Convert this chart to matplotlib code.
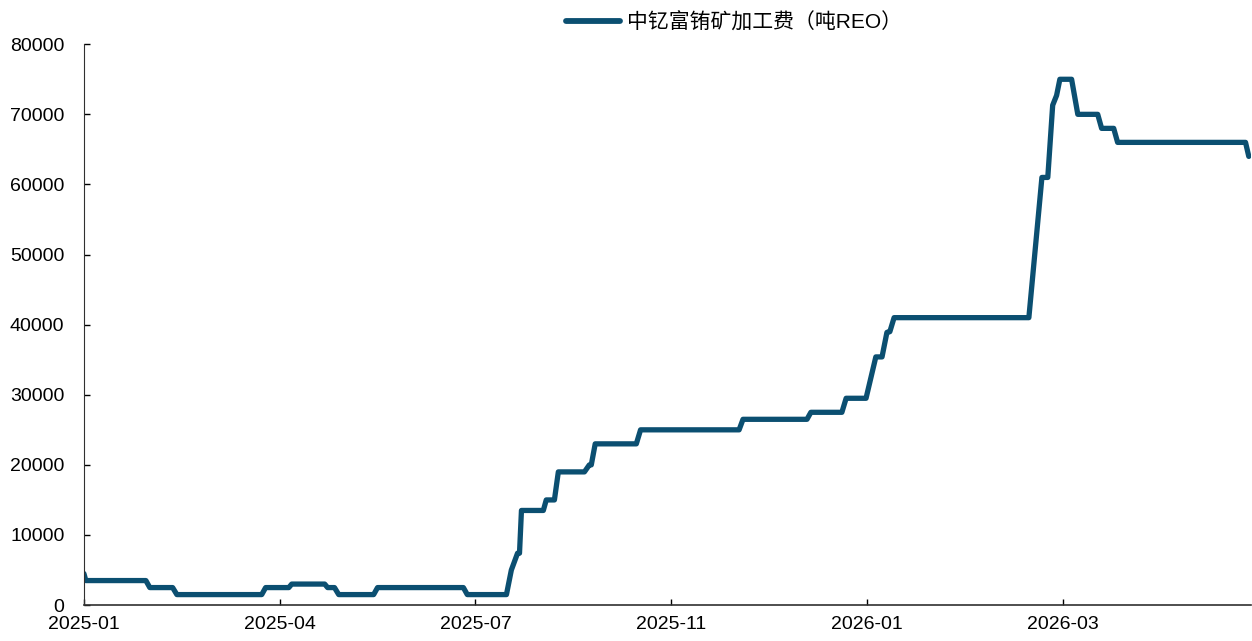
import numpy as np
import matplotlib.pyplot as plt

plt.rcParams['font.family'] = ['Liberation Sans', 'Noto Sans CJK SC', 'DejaVu Sans']

# breakpoints of the series (x = category index, y = 元/吨REO)
x_idx = [0, 0.6, 19, 20.2, 27.2, 28.5, 54.5, 55.7, 62.8, 63.7, 73.8, 74.7, 76.8, 78.1,
         88.8, 90, 116.3, 117.5, 129.5, 131, 132.9, 133.5, 134.1, 140.8, 141.7, 144.2,
         145.4, 153.4, 154.9, 155.5, 156.7, 169.3, 170.6, 200.8, 202, 221.6, 222.8,
         232.3, 233.6, 239.7, 242.7, 244.6, 246.1, 247, 248.3, 289.6, 293.6, 295.4,
         296.9, 298.1, 299.1, 302.7, 304.6, 310.7, 311.9, 315.6, 316.8, 356, 357]
values = [4500, 3500, 3500, 2500, 2500, 1500, 1500, 2500, 2500, 3000, 3000, 2500, 2500, 1500,
          1500, 2500, 2500, 1500, 1500, 5000, 7400, 7400, 13500, 13500, 15000, 15000,
          19000, 19000, 20000, 20000, 23000, 23000, 25000, 25000, 26500, 26500, 27500,
          27500, 29500, 29500, 35400, 35400, 38900, 39000, 41000, 41000, 61000, 61000,
          71300, 72700, 75000, 75000, 70000, 70000, 68000, 68000, 66000, 66000, 64000]
tick_pos = [0, 60, 120, 180, 240, 300]
tick_labels = ['2025-01', '2025-04', '2025-07', '2025-11', '2026-01', '2026-03']

fig = plt.figure(figsize=(12.52, 6.41), dpi=100)
ax = fig.add_axes([0.067, 0.056, 0.932, 0.875])

ax.plot(x_idx, values, color='#0B4F71', lw=3.8, solid_joinstyle='round',
        solid_capstyle='round', label='中钇富铕矿加工费（吨REO）')

ax.set_xlim(0, 357.6)
ax.set_ylim(0, 80000)
ax.set_yticks(np.arange(0, 80001, 10000))
ax.set_xticks(tick_pos)
ax.set_xticklabels(tick_labels)
ax.tick_params(axis='both', labelsize=14, colors='black', direction='in',
               length=4.5, width=1)
ax.tick_params(axis='x', pad=8)
ax.tick_params(axis='y', pad=14)
for s in ['top', 'right']:
    ax.spines[s].set_visible(False)
ax.spines['left'].set_color('#303030')
ax.spines['bottom'].set_color('#303030')
ax.spines['bottom'].set_linewidth(1.2)

leg = ax.legend(loc='upper center', bbox_to_anchor=(0.557, 1.09), frameon=False,
                fontsize=15, handlelength=2.6, handletextpad=0.3)
leg.get_lines()[0].set_linewidth(4.2)

fig.savefig('out.png', dpi=100)
